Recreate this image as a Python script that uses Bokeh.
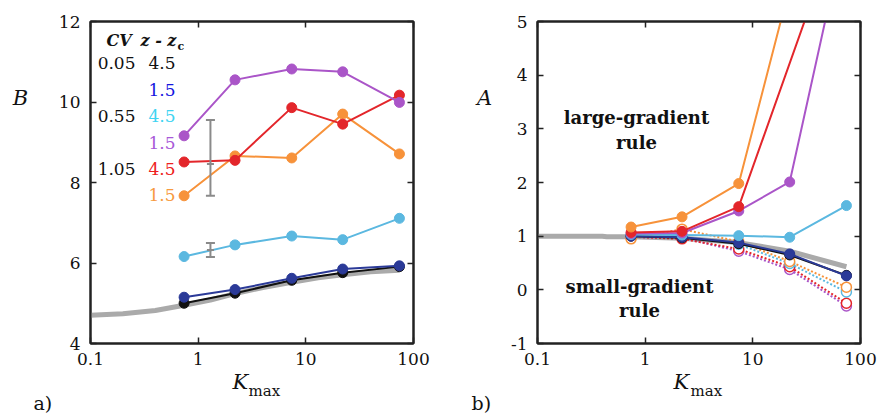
from bokeh.plotting import figure
from bokeh.models import Label, FixedTicker, CustomJSTickFormatter, LinearAxis, LogAxis
from bokeh.layouts import row
from bokeh.embed import file_html
from bokeh.resources import INLINE

# ---------------- data ----------------
K = [0.74, 2.2, 7.4, 22, 74]

# panel a) B vs Kmax
Ka_ref = [0.1, 0.2, 0.4, 0.74, 1.3, 2.2, 4, 7.4, 13, 22, 40, 74]
B_ref = [4.70, 4.74, 4.82, 4.95, 5.08, 5.24, 5.39, 5.52, 5.63, 5.71, 5.78, 5.82]
B_black = [5.00, 5.25, 5.57, 5.76, 5.91]
B_navy = [5.15, 5.34, 5.62, 5.85, 5.93]
B_cyan = [6.16, 6.45, 6.67, 6.58, 7.11]
B_purple = [9.16, 10.55, 10.82, 10.75, 9.99]
B_red = [8.51, 8.55, 9.86, 9.45, 10.17]
B_orange = [7.67, 8.66, 8.61, 9.70, 8.71]
err_k = [1.3, 1.3]
err_mid = [8.46, 6.32]
err_lo = [7.67, 6.15]
err_hi = [9.55, 6.50]

# panel b) A vs Kmax
Kb_ref = [0.1, 0.4, 0.44, 0.74, 2.2, 7.4, 22, 74]
A_ref = [1.00, 1.00, 0.99, 0.99, 0.96, 0.88, 0.72, 0.43]
A_orange = [1.17, 1.36, 1.98, 5.65, 14.0]
K_red = [0.74, 2.2, 7.4, 74]
A_red = [1.07, 1.09, 1.55, 7.2]
A_purple = [1.05, 1.06, 1.47, 2.01, 6.8]
A_cyan = [1.03, 1.02, 1.01, 0.98, 1.57]
A_navy = [1.00, 0.98, 0.88, 0.67, 0.26]
A_black = [1.00, 0.97, 0.86, 0.65, 0.27]
A_orange_o = [0.95, 1.13, 0.90, 0.53, 0.05]
A_cyan_o = [1.00, 0.99, 0.85, 0.49, -0.04]
A_red_o = [0.99, 0.95, 0.76, 0.43, -0.25]
A_purple_o = [0.98, 0.97, 0.72, 0.38, -0.30]

x_ticks = [0.1, 1, 10, 100]
ya_ticks = [4, 6, 8, 10, 12]
yb_ticks = [-1, 0, 1, 2, 3, 4, 5]

legend_cv = ["0.05", "0.55", "1.05"]
legend_z = ["4.5", "1.5", "4.5", "1.5", "4.5", "1.5"]

# ---------------- style ----------------
BLACK = "#111111"
NAVY = "#2b3a98"
CYAN = "#5bb8e0"
PURPLE = "#aa55c8"
RED = "#e3262b"
ORANGE = "#f7923a"
GRAY = "#aaaaaa"
EGRAY = "#8a8a8a"
ZCOLORS = [BLACK, "#1515e0", "#3fd4f2", "#a858d8", "#ee2020", "#f79a40"]
FONT = "DejaVu Serif"
FRAME = "#222222"

H = 415
TOP = 21
FH = 322
FW = 323


def make_fig(width, left, yr):
    p = figure(width=width, height=H, x_axis_type="log", x_range=(0.1, 100), y_range=yr,
               min_border_left=left, min_border_right=width - left - FW,
               min_border_top=TOP, min_border_bottom=H - TOP - FH,
               toolbar_location=None, output_backend="svg")
    p.grid.visible = False
    p.outline_line_color = FRAME
    p.outline_line_width = 2
    p.background_fill_color = "white"
    p.border_fill_color = "white"
    return p


def style_axes(p, yticks):
    p.xaxis.ticker = FixedTicker(ticks=x_ticks, minor_ticks=[])
    p.xaxis.formatter = CustomJSTickFormatter(code="return String(tick)")
    p.yaxis.ticker = FixedTicker(ticks=yticks, minor_ticks=[])
    p.yaxis.formatter = CustomJSTickFormatter(code="return tick.toFixed(0)")
    for ax in p.axis:
        ax.axis_line_color = FRAME
        ax.axis_line_width = 2
        ax.major_tick_in = 6
        ax.major_tick_out = 0
        ax.major_tick_line_color = FRAME
        ax.major_tick_line_width = 1.5
        ax.minor_tick_line_color = None
        ax.major_label_text_font = FONT
        ax.major_label_text_font_size = "17px"
        ax.major_label_text_color = BLACK
    p.xaxis.major_label_standoff = 9
    p.yaxis.major_label_standoff = 10
    top = LogAxis(ticker=FixedTicker(ticks=x_ticks, minor_ticks=[]))
    right = LinearAxis(ticker=FixedTicker(ticks=yticks, minor_ticks=[]))
    for ax in (top, right):
        ax.axis_line_color = FRAME
        ax.axis_line_width = 2
        ax.major_tick_in = 6
        ax.major_tick_out = 0
        ax.major_tick_line_color = FRAME
        ax.major_tick_line_width = 1.5
        ax.minor_tick_line_color = None
        ax.major_label_text_font_size = "1px"
        ax.major_label_text_color = None
        ax.major_label_standoff = 0
    p.add_layout(top, "above")
    p.add_layout(right, "right")


def add_text(p, conv, px, py, text, size, color=BLACK, style="normal", align="left",
             place="center"):
    x, y = conv(px, py)
    p.add_layout(Label(x=x, y=y, text=text, text_font=FONT, text_font_size=size,
                       text_font_style=style, text_color=color, text_align=align,
                       text_baseline="middle"), place)


# ---------------- panel a ----------------
pa = make_fig(440, 90, (4, 12))
style_axes(pa, ya_ticks)


def conv_a(px, py):
    return 10 ** (-1 + 3 * (px - 90) / FW), 12 - 8 * (py - 21) / FH


pa.line(Ka_ref, B_ref, line_color=GRAY, line_width=5)
for ys, c in [(B_black, BLACK), (B_navy, NAVY), (B_cyan, CYAN), (B_orange, ORANGE),
              (B_red, RED), (B_purple, PURPLE)]:
    pa.line(K, ys, line_color=c, line_width=2)
    pa.scatter(K, ys, size=10, fill_color=c, line_color=c)
pa.segment(x0=err_k, y0=err_lo, x1=err_k, y1=err_hi, line_color=EGRAY, line_width=2)
pa.scatter(err_k, err_lo, marker="dash", size=9, line_color=EGRAY, line_width=2)
pa.scatter(err_k, err_hi, marker="dash", size=9, line_color=EGRAY, line_width=2)
pa.scatter(err_k, err_mid, marker="dash", size=7, line_color=EGRAY, line_width=2)

# legend table
add_text(pa, conv_a, 106, 40, "CV", "16px", style="bold italic")
add_text(pa, conv_a, 140, 40, "z - z", "16px", style="bold italic")
add_text(pa, conv_a, 177, 46, "c", "11px", style="bold")
row_mid = [62, 89, 115, 142, 168.5, 194]
for i, t in enumerate(legend_cv):
    add_text(pa, conv_a, 135, row_mid[2 * i], t, "17px", align="right")
for i, t in enumerate(legend_z):
    add_text(pa, conv_a, 175, row_mid[i], t, "17px", color=ZCOLORS[i], align="right")

add_text(pa, conv_a, 20, 97, "B", "21px", style="italic", align="center", place="left")
add_text(pa, conv_a, 232, 381, "K", "21px", style="italic", place="left")
add_text(pa, conv_a, 248, 390.5, "max", "15px", place="below")
add_text(pa, conv_a, 33, 402, "a)", "19px", place="left")

# ---------------- panel b ----------------
pb = make_fig(437, 97, (-1, 5))
style_axes(pb, yb_ticks)


def conv_b(px, py):
    return 10 ** (-1 + 3 * (px - 537) / FW), 5 - 6 * (py - 21) / FH


pb.line(Kb_ref, A_ref, line_color=GRAY, line_width=5)
for ys, c in [(A_purple_o, PURPLE), (A_red_o, RED), (A_cyan_o, CYAN), (A_orange_o, ORANGE)]:
    pb.line(K, ys, line_color=c, line_width=2, line_dash="2 2")
    pb.scatter(K, ys, size=10, fill_color="white", line_color=c, line_width=1.5)
for ks, ys, c in [(K, A_black, BLACK), (K, A_navy, NAVY), (K, A_cyan, CYAN),
                  (K, A_purple, PURPLE), (K_red, A_red, RED), (K, A_orange, ORANGE)]:
    pb.line(ks, ys, line_color=c, line_width=2)
    pb.scatter(ks, ys, size=10, fill_color=c, line_color=c)

add_text(pb, conv_b, 484, 97, "A", "21px", style="italic", align="center", place="left")
add_text(pb, conv_b, 636, 117, "large-gradient", "18px", style="bold", align="center")
add_text(pb, conv_b, 636, 142, "rule", "18px", style="bold", align="center")
add_text(pb, conv_b, 639, 286, "small-gradient", "18px", style="bold", align="center")
add_text(pb, conv_b, 639, 309.5, "rule", "18px", style="bold", align="center")
add_text(pb, conv_b, 673, 381, "K", "21px", style="italic", place="left")
add_text(pb, conv_b, 690, 390.5, "max", "15px", place="below")
add_text(pb, conv_b, 471, 402, "b)", "19px", place="left")

layout = row(pa, pb)
open("out.html", "w").write(file_html(layout, INLINE))
